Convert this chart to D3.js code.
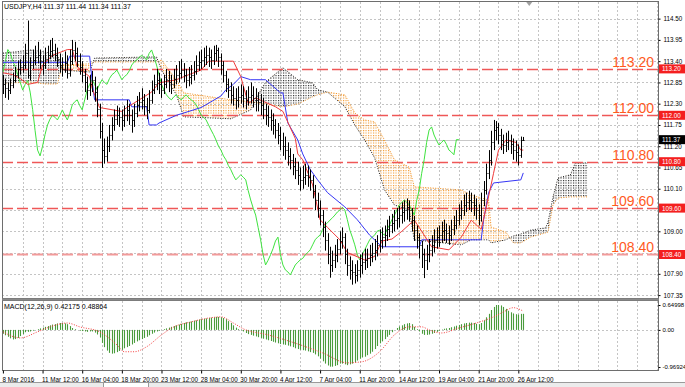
<!DOCTYPE html>
<html>
<head>
<meta charset="utf-8">
<script src="https://cdnjs.cloudflare.com/ajax/libs/d3/7.8.5/d3.min.js"></script>
<style>
  body { margin: 0; background: #fff; }
  svg { display: block; font-family: "Liberation Sans", Arial, sans-serif; }
  .axis text { font-size: 6.3px; fill: #000; }
  .axis path, .axis line { stroke: #000; }
</style>
</head>
<body>
<div id="chart"></div>
<script>
// ---- data ----
var symbolText = "USDJPY,H4  111.37 111.44 111.34 111.37";
var macdText = "MACD(12,26,9) 0.42175 0.48864";
var firstOpen = 112.75;

var closes = [
  112.80,112.70,112.66,112.78,112.90,113.05,113.20,113.25,113.30,113.60,
  113.05,113.30,113.43,113.50,113.55,113.40,113.30,113.45,113.55,113.65,
  113.70,113.55,113.45,113.30,113.20,113.35,113.10,113.40,113.70,113.60,
  113.40,113.25,113.05,112.85,112.65,112.80,112.90,112.60,112.15,111.60,
  111.10,110.95,111.20,111.50,111.75,111.90,112.00,111.95,111.88,112.00,
  112.14,112.00,111.88,112.05,112.27,112.35,112.40,112.25,112.14,112.40,
  112.66,112.80,112.92,112.80,112.66,112.80,112.92,112.85,112.80,112.95,
  113.05,113.10,113.17,113.05,112.92,113.00,113.05,113.15,113.30,113.38,
  113.43,113.50,113.55,113.50,113.43,113.60,113.69,113.50,113.30,113.05,
  112.80,112.65,112.53,112.45,112.40,112.48,112.53,112.45,112.40,112.48,
  112.53,112.45,112.40,112.35,112.27,112.15,112.00,111.95,111.88,111.75,
  111.62,111.50,111.36,111.20,111.10,110.95,110.85,110.70,110.59,110.45,
  110.33,110.40,110.46,110.40,110.33,110.05,109.81,109.60,109.42,109.10,
  108.78,108.40,108.13,108.25,108.39,108.55,108.75,108.85,108.40,108.13,
  108.00,107.95,107.87,108.00,108.13,108.20,108.26,108.30,108.39,108.45,
  108.52,108.65,108.78,108.85,108.90,109.05,109.16,109.22,109.29,109.35,
  109.42,109.50,109.55,109.62,109.55,109.30,109.03,108.85,108.65,108.40,
  108.26,108.40,108.52,108.65,108.78,108.85,108.90,109.00,109.03,108.95,
  108.90,109.05,109.16,109.30,109.42,109.55,109.68,109.75,109.81,109.75,
  109.68,109.55,109.42,109.80,110.07,110.50,110.85,111.30,111.62,111.70,
  111.49,111.35,111.23,111.30,111.36,111.25,111.10,111.05,110.98,111.37,
  111.37];

var highs = [
  113.05,112.95,112.85,112.95,113.10,113.25,113.40,113.45,113.55,113.85,
  114.45,113.50,113.70,113.80,113.90,113.70,113.55,113.75,113.80,113.95,
  114.00,113.85,113.75,113.60,113.50,113.65,113.55,113.70,113.95,113.90,
  113.75,113.60,113.40,113.20,113.00,113.05,113.15,113.00,112.75,112.30,
  111.80,111.40,111.45,111.75,111.95,112.15,112.25,112.20,112.15,112.25,
  112.40,112.30,112.15,112.30,112.50,112.60,112.70,112.55,112.45,112.65,
  112.90,113.05,113.20,113.10,112.95,113.05,113.20,113.15,113.05,113.20,
  113.30,113.40,113.45,113.35,113.20,113.25,113.30,113.40,113.55,113.65,
  113.70,113.75,113.80,113.75,113.70,113.80,113.82,113.75,113.60,113.40,
  113.15,112.95,112.85,112.75,112.70,112.75,112.80,112.75,112.65,112.75,
  112.85,112.75,112.70,112.60,112.55,112.45,112.30,112.25,112.15,112.05,
  111.90,111.80,111.70,111.55,111.45,111.30,111.15,111.00,110.90,110.80,
  110.65,110.70,110.75,110.70,110.60,110.45,110.20,110.00,109.80,109.55,
  109.25,108.95,108.60,108.50,108.65,108.80,109.00,109.10,108.95,108.55,
  108.35,108.25,108.15,108.25,108.40,108.45,108.55,108.55,108.65,108.70,
  108.80,108.90,109.05,109.10,109.15,109.30,109.40,109.45,109.55,109.60,
  109.65,109.75,109.80,109.85,109.80,109.60,109.40,109.15,108.95,108.75,
  108.55,108.65,108.80,108.90,109.05,109.10,109.15,109.25,109.30,109.20,
  109.15,109.30,109.40,109.55,109.70,109.80,109.95,110.00,110.05,110.00,
  109.95,109.85,109.70,110.00,110.30,110.75,111.10,111.60,111.88,111.85,
  111.80,111.65,111.50,111.55,111.60,111.50,111.40,111.35,111.25,111.45,
  111.44];

var lows = [
  112.55,112.45,112.40,112.55,112.70,112.85,112.95,113.05,113.10,113.20,
  112.95,112.90,113.20,113.30,113.35,113.20,113.05,113.20,113.35,113.45,
  113.50,113.40,113.25,113.10,113.00,113.10,112.95,113.00,113.30,113.40,
  113.25,113.05,112.85,112.60,112.40,112.50,112.60,112.35,111.95,111.40,
  110.64,110.75,110.80,111.05,111.35,111.60,111.75,111.70,111.60,111.70,
  111.85,111.75,111.55,111.70,111.95,112.10,112.15,112.00,111.90,112.05,
  112.30,112.55,112.65,112.55,112.45,112.55,112.70,112.60,112.55,112.70,
  112.80,112.85,112.95,112.85,112.70,112.75,112.80,112.90,113.05,113.15,
  113.20,113.25,113.30,113.25,113.20,113.30,113.40,113.25,113.05,112.85,
  112.60,112.45,112.30,112.25,112.15,112.20,112.30,112.20,112.15,112.25,
  112.30,112.20,112.10,112.10,112.00,111.90,111.75,111.70,111.60,111.50,
  111.40,111.25,111.10,110.95,110.85,110.70,110.60,110.45,110.35,110.20,
  110.05,110.10,110.20,110.15,110.05,109.85,109.55,109.35,109.15,108.85,
  108.50,108.15,107.80,107.95,108.05,108.20,108.40,108.55,108.15,107.85,
  107.75,107.62,107.65,107.70,107.80,107.90,108.00,108.05,108.10,108.20,
  108.25,108.35,108.45,108.55,108.60,108.75,108.85,108.95,109.00,109.05,
  109.10,109.20,109.25,109.30,109.25,109.00,108.75,108.55,108.30,108.05,
  107.79,108.00,108.20,108.35,108.45,108.55,108.60,108.70,108.75,108.70,
  108.65,108.75,108.90,109.05,109.15,109.30,109.40,109.50,109.55,109.50,
  109.40,109.30,109.15,109.25,109.65,109.95,110.35,110.70,111.10,111.35,
  111.25,111.10,111.00,111.05,111.10,111.00,110.85,110.80,110.70,110.90,
  111.34];

// Ichimoku lines: [bar, price]
var tenkan = [[0,113.10],[4,113.05],[7,112.95],[10,112.80],[14,112.85],[16,113.30],[20,113.55],[26,113.70],
  [28,113.70],[30,113.25],[35,113.00],[36,112.70],[39,112.20],[48,112.10],[50,112.20],[55,112.40],[60,112.60],
  [63,112.84],[70,112.92],[75,113.05],[80,113.17],[83,113.40],[93,113.40],[96,113.00],[99,112.30],[102,112.45],
  [110,112.22],[113,112.10],[118,111.40],[119,111.00],[121,110.85],[125,110.20],[128,109.30],[131,109.10],
  [136,108.78],[139,108.45],[146,108.26],[150,108.35],[153,108.75],[157,108.80],[161,109.00],[166,109.29],
  [168,109.10],[173,108.60],[180,108.52],[185,108.85],[189,109.29],[193,109.05],[195,109.60],[198,110.50],
  [200,111.10],[203,111.36],[207,111.30],[209,111.10],[210,111.10]];

var kijun = [[0,113.37],[26,113.37],[27,113.53],[35,113.53],[36,112.90],[37,112.40],[51,112.40],[52,112.22],
  [58,112.22],[59,111.75],[62,111.75],[63,111.80],[70,112.00],[80,112.20],[88,112.50],[90,112.66],[93,112.80],
  [96,113.00],[100,112.92],[106,112.92],[112,112.58],[113,112.58],[115,111.80],[119,111.36],[121,111.00],
  [124,110.60],[127,110.33],[131,110.00],[138,109.63],[143,109.30],[148,108.90],[153,108.60],[168,108.60],
  [169,108.78],[193,108.78],[194,109.30],[196,110.00],[198,110.25],[209,110.33],[210,110.51]];

// cloud: bar, senkou A, senkou B
var cloudBars = [0,5,11,17,22,24,35,37,62,64,70,73,92,100,103,106,113,119,125,127,131,138,142,146,150,
  154,158,164,166,185,189,196,197,203,206,209,213,219,220,222,224,229,231,236];
var spanA = [112.81,112.84,112.86,112.81,112.81,113.30,113.33,113.38,113.38,113.43,112.92,112.58,112.40,112.35,
  112.32,112.29,112.22,112.29,112.48,112.53,112.60,112.53,112.06,111.88,111.83,111.36,110.85,110.66,110.15,
  110.07,109.94,109.81,109.11,108.98,108.70,108.70,108.85,108.96,108.98,109.68,109.86,109.89,109.89,109.89];
var spanB = [113.61,113.64,113.69,113.64,113.56,113.17,113.12,113.48,113.51,113.17,112.53,111.96,111.91,112.14,
  112.53,112.86,113.23,112.92,112.84,112.66,112.60,112.22,111.75,111.36,110.90,110.07,109.68,109.55,108.78,
  108.65,108.78,108.78,108.70,108.78,108.88,108.93,109.03,109.09,109.24,109.89,110.38,110.46,110.77,110.77];

var macdHist = [
  -0.10,-0.14,-0.18,-0.22,-0.25,-0.24,-0.21,-0.16,-0.11,-0.06,
  -0.05,-0.04,-0.02,0.00,0.02,0.04,0.06,0.08,0.10,0.12,
  0.14,0.15,0.17,0.18,0.18,0.17,0.15,0.10,0.05,0.02,
  0.00,-0.02,-0.03,-0.04,-0.05,-0.04,-0.04,-0.07,-0.12,-0.20,
  -0.34,-0.45,-0.54,-0.60,-0.62,-0.61,-0.58,-0.55,-0.52,-0.48,
  -0.45,-0.42,-0.38,-0.34,-0.30,-0.27,-0.24,-0.21,-0.18,-0.14,
  -0.10,-0.07,-0.04,-0.02,0.00,0.02,0.04,0.06,0.08,0.10,
  0.12,0.14,0.16,0.18,0.20,0.21,0.22,0.24,0.25,0.27,
  0.28,0.29,0.30,0.31,0.32,0.33,0.34,0.34,0.33,0.31,
  0.28,0.23,0.18,0.12,0.06,0.02,-0.01,-0.04,-0.08,-0.11,
  -0.13,-0.15,-0.17,-0.19,-0.21,-0.23,-0.25,-0.27,-0.29,-0.31,
  -0.33,-0.35,-0.37,-0.38,-0.39,-0.41,-0.43,-0.45,-0.48,-0.50,
  -0.52,-0.53,-0.54,-0.56,-0.58,-0.60,-0.64,-0.69,-0.75,-0.82,
  -0.88,-0.93,-0.96,-0.96,-0.94,-0.92,-0.88,-0.88,-0.90,-0.92,
  -0.90,-0.88,-0.85,-0.80,-0.75,-0.72,-0.70,-0.66,-0.62,-0.57,
  -0.50,-0.42,-0.35,-0.30,-0.24,-0.18,-0.13,-0.06,0.00,0.05,
  0.09,0.12,0.15,0.17,0.18,0.15,0.08,0.02,-0.04,-0.10,
  -0.13,-0.13,-0.12,-0.10,-0.08,-0.05,-0.02,0.01,0.03,0.04,
  0.05,0.07,0.09,0.11,0.13,0.15,0.17,0.18,0.19,0.19,
  0.18,0.16,0.15,0.18,0.25,0.33,0.42,0.52,0.60,0.65,
  0.65,0.64,0.60,0.55,0.50,0.46,0.43,0.41,0.40,0.42,
  0.42];

var macdSignal = [[0,-0.05],[7,-0.21],[14,-0.05],[19,0.08],[26,0.18],[31,0.08],[39,-0.05],[46,-0.39],
  [49,-0.57],[53,-0.57],[58,-0.44],[64,-0.13],[69,0.08],[76,0.21],[83,0.31],[88,0.34],[93,0.18],[97,0.03],
  [107,-0.13],[120,-0.39],[129,-0.60],[139,-0.86],[145,-0.83],[152,-0.57],[158,-0.13],[164,0.08],[169,0.08],
  [172,0.00],[177,-0.08],[184,0.05],[191,0.18],[198,0.34],[202,0.47],[206,0.58],[210,0.49]];

var levels = [113.20, 112.00, 110.80, 109.60, 108.40];
var gridPrices = [114.50,113.95,113.40,112.85,112.30,111.75,111.20,110.65,110.10,109.55,109.00,108.45,107.90,107.35];
var priceTicks = [114.50,113.95,113.40,112.85,112.30,111.75,111.20,110.65,110.10,109.00,107.90,107.35];
var macdTicks = [0.64998, 0, -0.96924];
var macdTickLabels = ["0.64998", "0.00", "-0.96924"];
var dateBars = [0,16,32,48,64,80,96,112,128,144,160,176,192,208];
var dateLabels = ["8 Mar 2016","11 Mar 12:00","16 Mar 04:00","18 Mar 20:00","23 Mar 12:00","28 Mar 04:00",
  "30 Mar 20:00","4 Apr 12:00","7 Apr 04:00","11 Apr 20:00","14 Apr 12:00","19 Apr 04:00","21 Apr 20:00","26 Apr 12:00"];
var lastPrice = 111.37;

// ---- layout ----
var W = 685, H = 387;
var left = 2, right = 658, mainTop = 2, mainBottom = 298, macdTop = 301, macdBottom = 370;

var svg = d3.select("#chart").append("svg").attr("width", W).attr("height", H);
var defs = svg.append("defs");

var x = d3.scaleLinear().domain([0, 236]).range([2.9, 2.9 + 236 * 2.478]);
var y = d3.scaleLinear().domain([107.275, 114.93]).range([mainBottom, mainTop]);
var ym = d3.scaleLinear().domain([-1.047, 0.755]).range([macdBottom, macdTop]);

defs.append("clipPath").attr("id", "mainClip").append("rect")
    .attr("x", left).attr("y", mainTop).attr("width", right - left).attr("height", mainBottom - mainTop);
defs.append("clipPath").attr("id", "macdClip").append("rect")
    .attr("x", left).attr("y", macdTop).attr("width", right - left).attr("height", macdBottom - macdTop);

// dotted hatch like the terminal's cloud histogram
function dotPattern(id, color) {
  var p = defs.append("pattern").attr("id", id).attr("patternUnits", "userSpaceOnUse")
      .attr("x", 3).attr("y", 0).attr("width", 2.5).attr("height", 2.5);
  p.append("rect").attr("width", 1.1).attr("height", 1.1).attr("fill", color);
}
dotPattern("dotA", "#f3962a");
dotPattern("dotB", "#222");

var cloud = cloudBars.map(function(b, i) { return {b: b, a: spanA[i], s: spanB[i]}; });
defs.append("clipPath").attr("id", "aboveB").append("path")
    .attr("d", d3.area().x(function(d){ return x(d.b); }).y0(0).y1(function(d){ return y(d.s); })(cloud));
defs.append("clipPath").attr("id", "belowB").append("path")
    .attr("d", d3.area().x(function(d){ return x(d.b); }).y0(function(d){ return y(d.s); }).y1(H)(cloud));

// ---- grid ----
var grid = svg.append("g").attr("stroke", "#c4c4c4").attr("stroke-dasharray", "2,2").attr("stroke-width", 1);
d3.range(8, 265, 8).forEach(function(b) {
  var gx = Math.round(x(b)) + 0.5;
  grid.append("line").attr("x1", gx).attr("x2", gx).attr("y1", mainTop).attr("y2", mainBottom);
  grid.append("line").attr("x1", gx).attr("x2", gx).attr("y1", macdTop).attr("y2", macdBottom);
});
gridPrices.forEach(function(p) {
  var gy = Math.round(y(p)) + 0.5;
  grid.append("line").attr("x1", left).attr("x2", right).attr("y1", gy).attr("y2", gy);
});
grid.append("line").attr("x1", left).attr("x2", right)
    .attr("y1", Math.round(ym(0)) + 0.5).attr("y2", Math.round(ym(0)) + 0.5);

// ---- main panel ----
var main = svg.append("g").attr("clip-path", "url(#mainClip)");

main.append("line").attr("x1", left).attr("x2", right)
    .attr("y1", Math.round(y(lastPrice)) + 0.5).attr("y2", Math.round(y(lastPrice)) + 0.5)
    .attr("stroke", "#c8c8c8").attr("stroke-width", 1);

// cloud
var cloudArea = d3.area().x(function(d){ return x(d.b); })
    .y0(function(d){ return y(d.a); }).y1(function(d){ return y(d.s); });
main.append("path").datum(cloud).attr("d", cloudArea).attr("fill", "url(#dotA)").attr("clip-path", "url(#aboveB)");
main.append("path").datum(cloud).attr("d", cloudArea).attr("fill", "url(#dotB)").attr("clip-path", "url(#belowB)");
main.append("path").datum(cloud)
    .attr("d", d3.line().x(function(d){ return x(d.b); }).y(function(d){ return y(d.a); }))
    .attr("fill", "none").attr("stroke", "#f3962a").attr("stroke-width", 1).attr("stroke-dasharray", "1,1.5");
main.append("path").datum(cloud)
    .attr("d", d3.line().x(function(d){ return x(d.b); }).y(function(d){ return y(d.s); }))
    .attr("fill", "none").attr("stroke", "#222").attr("stroke-width", 1).attr("stroke-dasharray", "1,1.5");

// levels
var lv = main.append("g");
levels.forEach(function(p, i) {
  var ly = Math.round(y(p)) + 0.5;
  lv.append("line").attr("x1", left).attr("x2", right).attr("y1", ly).attr("y2", ly)
    .attr("stroke", i === levels.length - 1 ? "#f29a9a" : "#ef5757")
    .attr("stroke-width", i === levels.length - 1 ? 2 : 1.3)
    .attr("stroke-dasharray", "11,4");
  lv.append("text").attr("x", 654).attr("y", ly - 3).attr("text-anchor", "end")
    .attr("font-size", 14).attr("fill", "#ff5a1e").text(p.toFixed(2));
});

// ichimoku lines
var barLine = d3.line().x(function(d){ return x(d[0]); }).y(function(d){ return y(d[1]); });
var chikou = closes.slice(26).map(function(c, i) { return [i, c]; });
main.append("path").datum(chikou).attr("d", barLine).attr("fill", "none").attr("stroke", "#3fe33f").attr("stroke-width", 1);
main.append("path").datum(kijun).attr("d", barLine).attr("fill", "none").attr("stroke", "#3636f5").attr("stroke-width", 1);
main.append("path").datum(tenkan).attr("d", barLine).attr("fill", "none").attr("stroke", "#f03a3a").attr("stroke-width", 1);

// price bars
var bars = main.append("g").attr("stroke", "#000").attr("stroke-width", 1);
closes.forEach(function(c, i) {
  var bx = Math.round(x(i)) + 0.5;
  var o = i === 0 ? firstOpen : closes[i - 1];
  bars.append("line").attr("x1", bx).attr("x2", bx).attr("y1", y(highs[i])).attr("y2", y(lows[i]));
  bars.append("line").attr("x1", bx - 1).attr("x2", bx).attr("y1", Math.round(y(o)) + 0.5).attr("y2", Math.round(y(o)) + 0.5);
  bars.append("line").attr("x1", bx).attr("x2", bx + 1).attr("y1", Math.round(y(c)) + 0.5).attr("y2", Math.round(y(c)) + 0.5);
});

svg.append("text").attr("x", 4).attr("y", 9).attr("font-size", 7).attr("fill", "#000").text(symbolText);

// ---- macd panel ----
var macd = svg.append("g").attr("clip-path", "url(#macdClip)");
macd.append("g").attr("stroke", "#4a9b3c").attr("stroke-width", 1.1)
  .selectAll("line").data(macdHist).join("line")
    .attr("x1", function(d, i){ return Math.round(x(i)) + 0.5; })
    .attr("x2", function(d, i){ return Math.round(x(i)) + 0.5; })
    .attr("y1", ym(0)).attr("y2", function(d){ return ym(d); });
macd.append("path").datum(macdSignal)
    .attr("d", d3.line().x(function(d){ return x(d[0]); }).y(function(d){ return ym(d[1]); }).curve(d3.curveMonotoneX))
    .attr("fill", "none").attr("stroke", "#f53c3c").attr("stroke-width", 1).attr("stroke-dasharray", "1,1.5");
svg.append("text").attr("x", 4).attr("y", 309).attr("font-size", 7).attr("fill", "#000").text(macdText);

// ---- frames ----
svg.append("rect").attr("x", left + 0.5).attr("y", mainTop - 0.5).attr("width", right - left).attr("height", mainBottom - mainTop + 1)
    .attr("fill", "none").attr("stroke", "#6e6e6e");
svg.append("rect").attr("x", left + 0.5).attr("y", macdTop - 0.5).attr("width", right - left).attr("height", macdBottom - macdTop + 1)
    .attr("fill", "none").attr("stroke", "#6e6e6e");
svg.append("rect").attr("x", left).attr("y", mainBottom + 0.5).attr("width", right - left + 1).attr("height", 2).attr("fill", "#8a8a8a");

// ---- axes ----
var pAxis = svg.append("g").attr("class", "axis").attr("transform", "translate(" + (right + 0.5) + ",0)")
    .call(d3.axisRight(y).tickValues(priceTicks).tickFormat(d3.format(".2f")).tickSize(2).tickPadding(3));
pAxis.select(".domain").remove();
var mAxis = svg.append("g").attr("class", "axis").attr("transform", "translate(" + (right + 0.5) + ",0)")
    .call(d3.axisRight(ym).tickValues(macdTicks).tickFormat(function(d, i){ return macdTickLabels[i]; }).tickSize(2).tickPadding(2));
mAxis.select(".domain").remove();
mAxis.selectAll("text").style("font-size", "6px");
var dAxis = svg.append("g").attr("class", "axis").attr("transform", "translate(0," + (macdBottom + 0.5) + ")")
    .call(d3.axisBottom(x).tickValues(dateBars).tickFormat(function(d, i){ return dateLabels[i]; }).tickSize(3).tickPadding(4));
dAxis.select(".domain").remove();
dAxis.selectAll("text").attr("text-anchor", "start").attr("dx", -1).style("font-size", "6.3px");

// price boxes
var boxes = svg.append("g");
levels.forEach(function(p) {
  var by = y(p);
  boxes.append("rect").attr("x", right + 1).attr("y", by - 4.5).attr("width", 26).attr("height", 9).attr("fill", "#f41f1f");
  boxes.append("text").attr("x", right + 4).attr("y", by + 2.5).attr("font-size", 6.3).attr("fill", "#fff").text(p.toFixed(2));
});
boxes.append("rect").attr("x", right + 1).attr("y", y(lastPrice) - 4.5).attr("width", 26).attr("height", 9).attr("fill", "#000");
boxes.append("text").attr("x", right + 4).attr("y", y(lastPrice) + 2.5).attr("font-size", 6.3).attr("fill", "#fff").text(lastPrice.toFixed(2));

// chart shift marker
svg.append("path").attr("d", d3.line()([[x(210) + 3, 2], [x(210) + 9, 2], [x(210) + 6, 6]])).attr("fill", "#a0a0a0");

// bottom tab bar
svg.append("rect").attr("x", 0).attr("y", 382).attr("width", W).attr("height", 5).attr("fill", "#ececec");
svg.append("line").attr("x1", 0).attr("x2", W).attr("y1", 382.5).attr("y2", 382.5).attr("stroke", "#9a9a9a");
svg.append("rect").attr("x", 103.5).attr("y", 382.5).attr("width", 45).attr("height", 6).attr("fill", "#fff").attr("stroke", "#9a9a9a");
</script>
</body>
</html>
